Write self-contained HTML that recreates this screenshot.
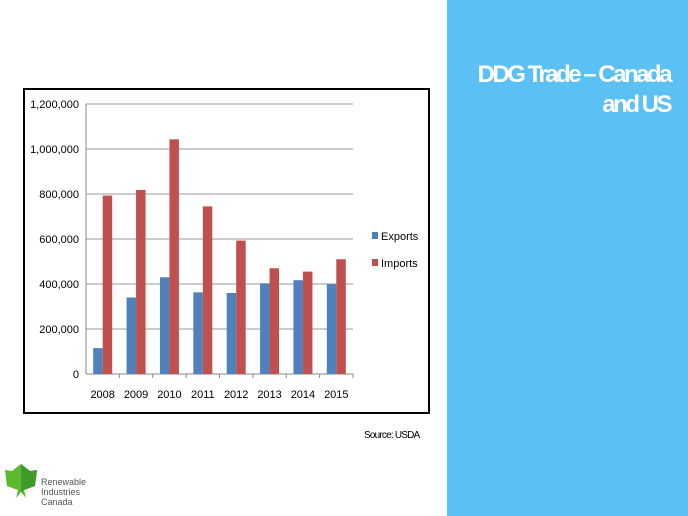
<!DOCTYPE html>
<html><head><meta charset="utf-8"><style>
body{margin:0;width:688px;height:516px;background:#fff;position:relative;overflow:hidden;font-family:"Liberation Sans",sans-serif}
#panel{position:absolute;left:447px;top:0;width:241px;height:516px;background:#5bc0f3}
#title{position:absolute;right:18px;top:60px;color:#fff;font-weight:bold;font-size:24px;line-height:30px;text-align:right;letter-spacing:-2.5px}
#frame{position:absolute;left:23px;top:88px;width:403px;height:322px;border:2px solid #000}
#src{position:absolute;left:364px;top:430px;font-size:10px;letter-spacing:-0.8px}
#logo{position:absolute;left:4px;top:464px}
#logotext{position:absolute;left:41px;top:477px;font-size:9px;line-height:10px;color:#555}
</style></head><body>
<div id="panel"></div>
<div id="title">DDG Trade – Canada<br>and US</div>
<div id="frame"></div>
<svg id="chart" width="688" height="516" style="position:absolute;left:0;top:0"></svg>
<div id="src">Source: USDA</div>
<svg id="logo" width="34" height="36"><polygon points="17,0 26,7 33,6 31,22 20,26 22,34 17,28 12,34 14,26 3,22 1,6 8,7" fill="#5cb82e"/><polygon points="17,0 26,7 33,6 31,22 20,26 17,28" fill="#3f9a2a"/></svg>
<div id="logotext">Renewable<br>Industries<br>Canada</div>
<script>
const categories=["2008","2009","2010","2011","2012","2013","2014","2015"];
const exportsVals=[115000,340000,430000,363000,360000,403000,417000,400000];
const importsVals=[793000,818000,1043000,745000,593000,470000,455000,510000];
const yTicks=[0,200000,400000,600000,800000,1000000,1200000];
const svg=document.getElementById('chart');const NS='http://www.w3.org/2000/svg';
const x0=86,x1=353,y0=374,y1=104,yMax=1200000;
const yS=v=>y0-(v/yMax)*(y0-y1);
const bw=(x1-x0)/categories.length;
function mk(t,a){const e=document.createElementNS(NS,t);for(const k in a)e.setAttribute(k,a[k]);svg.appendChild(e);return e;}
yTicks.forEach(v=>{const y=yS(v);
const l=mk('line',{x1:x0,x2:x1,y1:y,y2:y,stroke:v?'#999':'#888','stroke-width':1});

const t=mk('text',{x:x0-7,y:y+4,'text-anchor':'end','font-size':11,fill:'#000'});t.textContent=v.toLocaleString('en-US');
});
const ax=mk('line',{x1:x0,x2:x0,y1:y1,y2:y0,stroke:'#888'});

categories.forEach((c,i)=>{const gx=x0+i*bw;const w=9.5;const cx=gx+bw/2;
mk('line',{x1:gx+bw,x2:gx+bw,y1:y0,y2:y0+4,stroke:'#888'});
const b=mk('rect',{x:cx-w,y:yS(exportsVals[i]),width:w,height:y0-yS(exportsVals[i]),fill:'#4f81bd'});

const r=mk('rect',{x:cx,y:yS(importsVals[i]),width:w,height:y0-yS(importsVals[i]),fill:'#c0504d'});

const t=mk('text',{x:cx,y:y0+24,'text-anchor':'middle','font-size':11});t.textContent=c;
});
[['Exports','#4f81bd',236],['Imports','#c0504d',263]].forEach(([n,c,y])=>{
const s=mk('rect',{x:372,y:y-4,width:6,height:7,fill:c});
const t=mk('text',{x:381,y:y+4,'font-size':11});t.textContent=n;});
</script>
</body></html>
